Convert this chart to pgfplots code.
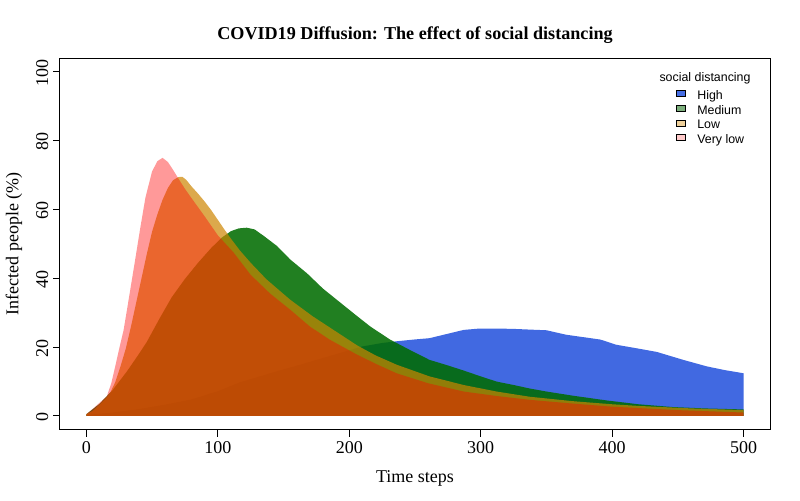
\documentclass[border=0pt]{standalone}
\usepackage{pgfplots}
\pgfplotsset{compat=1.18}
\usepackage{fontspec}
\setmainfont{Liberation Serif}
\newfontfamily\legfont{Liberation Sans}
\definecolor{cHigh}{RGB}{65,105,225}
\definecolor{cMed}{RGB}{0,108,0}
\definecolor{cLow}{RGB}{205,133,0}
\definecolor{cVlow}{RGB}{255,0,0}
\definecolor{lHigh}{RGB}{70,110,228}
\definecolor{lMed}{RGB}{125,175,125}
\definecolor{lLow}{RGB}{238,208,155}
\definecolor{lVlow}{RGB}{255,202,202}
\begin{document}
\begin{tikzpicture}
\begin{axis}[
  scale only axis, width=532.5pt, height=278.8pt,
  xmin=-20, xmax=520, ymin=-4, ymax=104,
  xtick={0,100,...,500}, ytick={0,20,...,100},
  tick pos=left, tick align=outside, major tick length=5.25pt,
  every tick/.style={black, line width=0.75pt},
  axis line style={line width=0.75pt},
  /pgf/number format/assume math mode=true,
  ticklabel style={font=\fontsize{13.5}{16}\selectfont},
  yticklabel style={rotate=90, anchor=south, xshift=-1pt},
  title={COVID19 Diffusion: The effect of social distancing},
  title style={at={(axis description cs:0.5,1)}, anchor=center, yshift=11.25pt, font=\fontsize{13.6}{16}\selectfont\bfseries},
  xlabel={Time steps},
  xlabel style={at={(axis description cs:0.5,0)}, anchor=center, yshift=-36.5pt, font=\fontsize{13.5}{16}\selectfont},
  ylabel={Infected people (\%)},
  ylabel style={at={(axis description cs:0,0.5)}, anchor=center, rotate=0, yshift=34.5pt, font=\fontsize{13.5}{16}\selectfont},
  legend style={at={(0.8676,0.9136)}, anchor=north west, draw=none, fill=none, inner sep=0pt, outer sep=0pt,
    font=\legfont\fontsize{9.3}{11}\selectfont, row sep=2pt,
    nodes={inner sep=0pt, text height=7pt, text depth=2pt},
    /tikz/every odd column/.style={column sep=8.5pt}},
  legend cell align=left,
  legend image code/.code={\draw[#1, draw=black, line width=0.5pt] (0pt,-0.3pt) rectangle (7pt,4pt);},
]
\addplot[fill=cHigh, draw=none, forget plot] table {
0 0
0 0.3
20 1.0
40 2.0
60 3.3
80 4.8
100 7.2
117 9.8
132 11.5
145 13
160 14.6
175 16.3
193 18.3
210 20.2
225 21.2
236 21.7
249 22.2
261 22.6
274 23.8
287 25.0
299 25.4
312 25.4
325 25.3
337 25.1
350 24.9
365 23.6
378 22.9
391 22.2
403 20.7
421 19.5
434 18.6
454 16.3
472 14.4
486 13.3
500 12.4
500 0
} \closedcycle;
\addplot[fill=cMed, fill opacity=0.87, draw=none, forget plot] table {
0 0
0 0.5
5 2
10 3.5
15 5.5
20 7.5
31 13
40 18
46 21.5
56 28.5
65 34.5
75 39.8
85 44.5
95 48.8
103 51.8
110 53.7
116 54.5
122 54.7
128 54.2
135 52.3
145 49.4
155 45.5
168 41.4
180 37
193 33
206 29
216 26
231 22.2
246 19.2
261 16.3
274 14.8
287 13.2
300 11.5
312 10
325 9
337 8
350 7.1
370 5.9
396 4.5
420 3.4
446 2.6
470 2.2
500 1.9
500 0
} \closedcycle;
\addplot[fill=cLow, fill opacity=0.7, draw=none, forget plot] table {
0 0
0 0.5
5 1.5
10 3.3
15 5.2
18 6.6
22 9.8
26 14.4
30 19.5
34 26
38 33
42 40
46 47
50 53.5
54 58.5
58 62.8
62 66.2
66 68.5
70 69.4
73 69.5
76 68.6
80 66.7
85 64.6
90 62.3
95 59.8
100 57
105 54.2
110 51.5
117 48
125 44.5
137 39.7
155 33.8
172 29
188 25
206 20.5
220 17.6
236 14.9
261 11.5
287 9
312 7.1
337 5.6
370 4.3
400 3.4
421 2.9
460 2.2
500 1.7
500 0
} \closedcycle;
\addplot[fill=cVlow, fill opacity=0.4, draw=none, forget plot] table {
0 0
0 0.5
5.6 2.3
10 3.8
15.7 5.8
19 9.5
22 14.4
25 19.5
28.4 25
31 31
34 38
37 45
41 54.5
45 63.5
50 71
54 74
58 75
62 73.8
66 71.5
70 69
75 66
80 63.3
90 58
100 52.5
112 47.5
125 41
140 35.5
155 30.9
170 26
185 22.2
206 17.8
221 15
236 12.4
260 9.5
287 7.1
312 5.8
337 4.7
370 3.6
400 2.7
450 1.7
500 1.0
500 0
} \closedcycle;
\addlegendimage{fill=lHigh}
\addlegendentry{High}
\addlegendimage{fill=lMed}
\addlegendentry{Medium}
\addlegendimage{fill=lLow}
\addlegendentry{Low}
\addlegendimage{fill=lVlow}
\addlegendentry{Very low}
\node[font=\legfont\fontsize{9.3}{11}\selectfont] at (rel axis cs:0.9085,0.9467) {social distancing};
\end{axis}
\pgfresetboundingbox
\path ([xshift=-45pt,yshift=-52.7pt]current axis.south west) rectangle ([xshift=22.5pt,yshift=43.5pt]current axis.north east);
\end{tikzpicture}
\end{document}
